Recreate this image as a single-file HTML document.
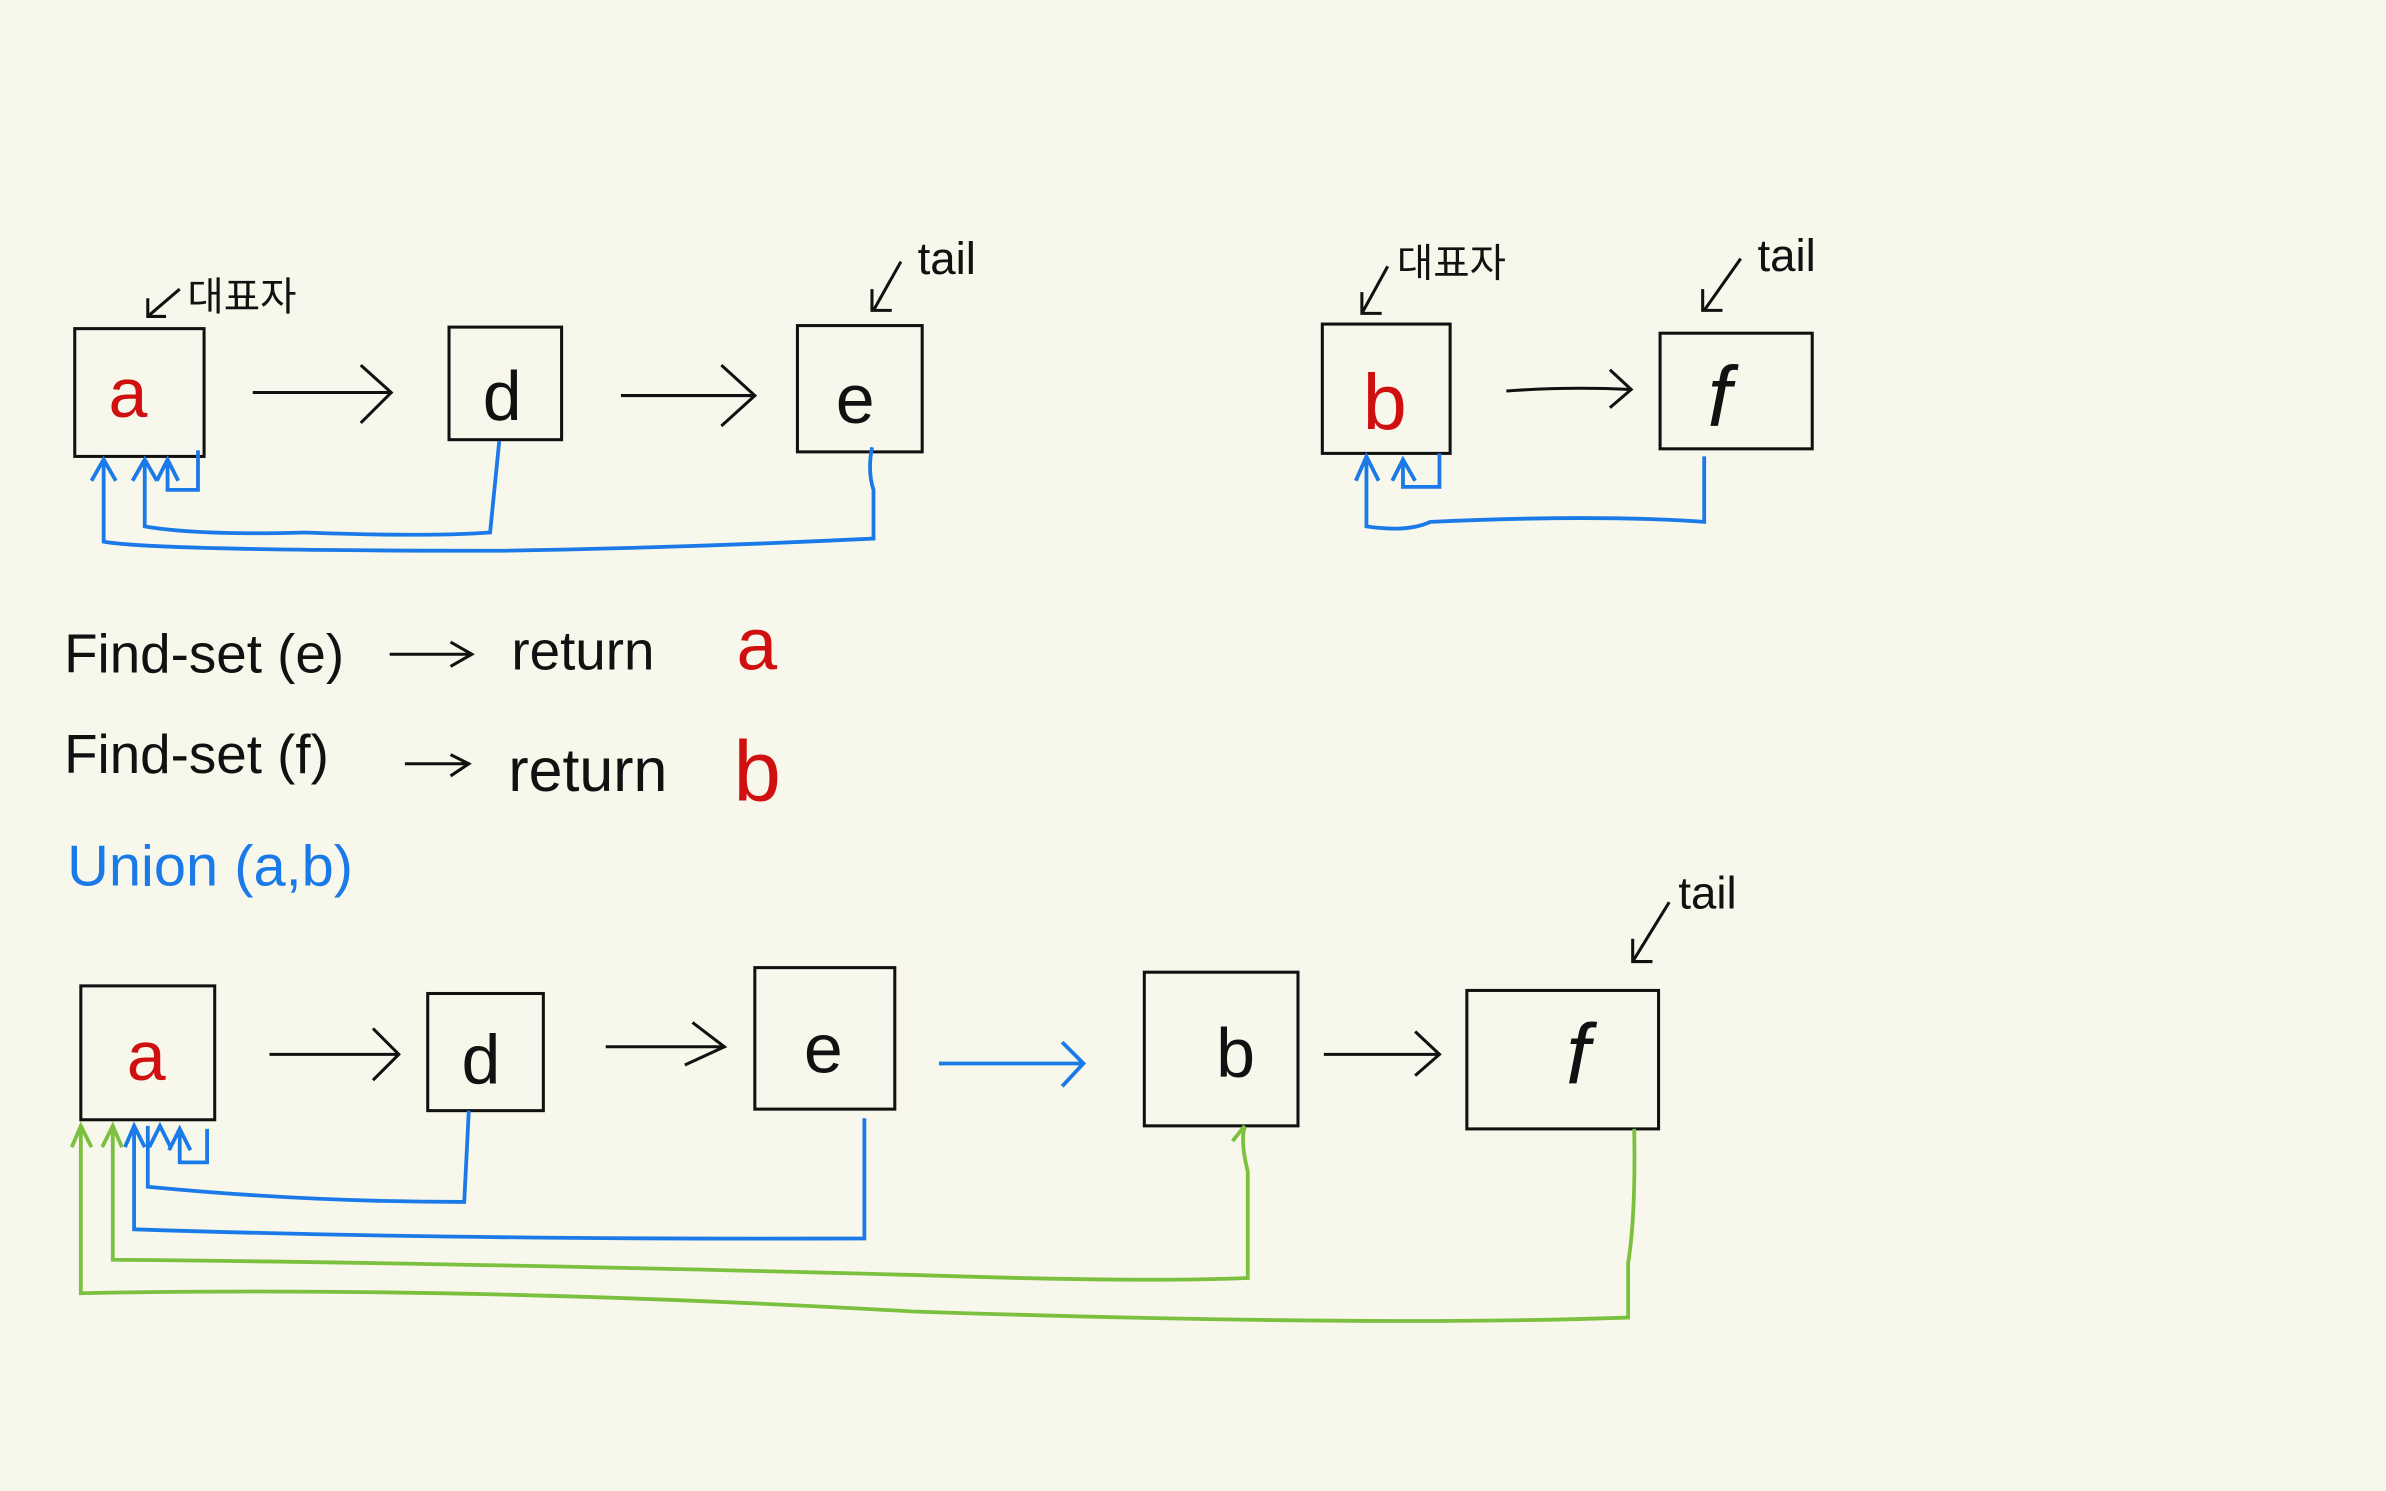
<!DOCTYPE html>
<html><head><meta charset="utf-8"><style>
html,body{margin:0;padding:0;background:#f8f7eb;}
svg{display:block}
text{font-family:"Liberation Sans","Noto Sans CJK KR",sans-serif;}
</style></head><body>
<svg width="2386" height="1491" viewBox="0 0 1568 980" xmlns="http://www.w3.org/2000/svg">
<rect width="1568" height="980" fill="#f8f7eb"/>
<g fill="none" stroke="#111" stroke-width="2">
<rect x="49" y="216" width="85" height="84"/>
<rect x="295" y="215" width="74" height="74"/>
<rect x="524" y="214" width="82" height="83"/>
<rect x="869" y="213" width="84" height="85"/>
<rect x="1091" y="219" width="100" height="76"/>
<rect x="53" y="648" width="88" height="88"/>
<rect x="281" y="653" width="76" height="77"/>
<rect x="496" y="636" width="92" height="93"/>
<rect x="752" y="639" width="101" height="101"/>
<rect x="964" y="651" width="126" height="91"/>
<!-- arrows -->
<path d="M166 258 H257 M237 240 L257 258 L237 278"/>
<path d="M408 260 H496 M474 240 L496 260 L474 280"/>
<path d="M990 257 Q1030 254 1072 256 M1058 243 L1072 256 L1058 268"/>
<path d="M177 693 H262 M245 676 L262 693 L245 710"/>
<path d="M398 688 H476 M455 672 L476 688 L450 700"/>
<path d="M870 693 H946 M930 678 L946 693 L930 707"/>
<path d="M256 430 H310 M296 422 L310 430 L296 438"/>
<path d="M266 502 H308 M296 496 L308 502 L296 510"/>
<!-- small pointer arrows -->
<path d="M118 190 L97 208 M97 196 V208 H109"/>
<path d="M592 172 L574 204 M573 190 V204 H586"/>
<path d="M912 175 L895 206 M895 192 V206 H908"/>
<path d="M1144 170 L1120 204 M1119 190 V204 H1132"/>
<path d="M1097 593 L1073 632 M1073 617 V632 H1086"/>
</g>
<g fill="none" stroke="#1a7ae8" stroke-width="2.5">
<path d="M617 699 H712 M698 685 L712 699 L698 714"/>
<path d="M68 302 V356 Q100 362 330 362 Q450 360 574 354 V322 Q570 310 573 294"/>
<path d="M95 302 V346 Q130 352 200 350 Q280 353 322 350 L328 290"/>
<path d="M60 316 L68 302 L76 316 M87 316 L95 302 L103 316"/>
<path d="M110 302 V322 H130 V296 M103 316 L110 302 L117 316"/>
<path d="M898 300 V346 Q925 350 940 343 Q1050 338 1120 343 V300"/>
<path d="M891 316 L898 300 L906 316"/>
<path d="M922 302 V320 H946 V298 M915 316 L922 302 L930 316"/>
<path d="M88 740 V808 Q300 815 568 814 V735"/>
<path d="M97 740 V780 Q200 790 305 790 L308 730"/>
<path d="M82 754 L88 740 L95 754 M98 754 L105 740 L112 754"/>
<path d="M118 742 V764 H136 V742 M111 756 L118 742 L125 756"/>
</g>
<g fill="none" stroke="#7cc040" stroke-width="2.5">
<path d="M53 740 V850 Q300 845 600 862 Q900 872 1070 866 V830 Q1075 800 1074 742"/>
<path d="M74 740 V828 Q300 830 600 838 Q750 843 820 840 V770 Q815 750 818 741"/>
<path d="M47 754 L53 740 L60 754 M67 754 L74 740 L80 754 M810 750 L818 740"/>
</g>
<g font-size="46" fill="#111" text-anchor="middle">
<text x="84" y="274" fill="#d01010">a</text>
<text x="330" y="276">d</text>
<text x="562" y="278">e</text>
<text x="910" y="282" fill="#d01010" font-size="52">b</text>
<text x="1130" y="280" font-size="56" font-style="italic">f</text>
<text x="96" y="710" fill="#d01010">a</text>
<text x="316" y="712">d</text>
<text x="541" y="705">e</text>
<text x="812" y="708">b</text>
<text x="1037" y="712" font-size="56" font-style="italic">f</text>
</g>
<g fill="#111" font-size="26">
<text x="123" y="204">대표자</text>
<text x="918" y="182">대표자</text>
<text x="603" y="180" font-size="30">tail</text>
<text x="1155" y="178" font-size="30">tail</text>
<text x="1103" y="597" font-size="30">tail</text>
<text x="42" y="442" font-size="36">Find-set (e)</text>
<text x="42" y="508" font-size="36">Find-set (f)</text>
<text x="336" y="440" font-size="36">return</text>
<text x="334" y="520" font-size="40">return</text>
<text x="484" y="440" font-size="48" fill="#d01010">a</text>
<text x="482" y="526" font-size="56" fill="#d01010">b</text>
<text x="44" y="582" font-size="38" fill="#1a7ae8">Union (a,b)</text>
</g>
</svg>
</body></html>
